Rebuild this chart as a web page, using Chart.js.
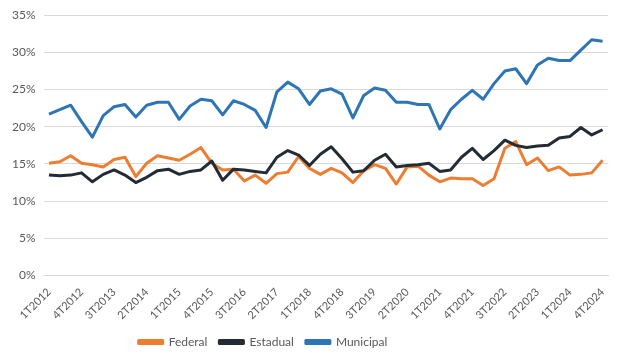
<!DOCTYPE html>
<html>
<head>
<meta charset="utf-8">
<script src="https://cdn.jsdelivr.net/npm/chart.js@4"></script>
<style>
  html, body { margin: 0; padding: 0; background: #fff; }
  #wrap { width: 631px; height: 364px; }
</style>
</head>
<body>
<div id="wrap"><canvas id="chart" width="631" height="364"></canvas></div>
<script>
// quarters 1T2012 .. 4T2024
const quarters = [];
for (let y = 2012; y <= 2024; y++) {
  for (let q = 1; q <= 4; q++) quarters.push(q + 'T' + y);
}

// values in %
const federal = [
  15.1, 15.3, 16.1, 15.1, 14.9, 14.6, 15.6, 15.9, 13.3, 15.1, 16.1, 15.8, 15.5,
  16.3, 17.2, 15.1, 14.2, 14.3, 12.7, 13.5, 12.4, 13.7, 13.9, 16.0, 14.4, 13.6,
  14.4, 13.8, 12.5, 14.1, 14.9, 14.4, 12.3, 14.6, 14.7, 13.5, 12.6, 13.1, 13.0,
  13.0, 12.1, 13.0, 17.1, 18.0, 14.9, 15.8, 14.1, 14.6, 13.5, 13.6, 13.8, 15.5
];
const estadual = [
  13.5, 13.4, 13.5, 13.8, 12.6, 13.6, 14.2, 13.5, 12.5, 13.2, 14.1, 14.3, 13.6,
  14.0, 14.2, 15.4, 12.8, 14.3, 14.2, 14.0, 13.8, 15.9, 16.8, 16.2, 14.8, 16.3,
  17.3, 15.7, 13.9, 14.1, 15.5, 16.3, 14.6, 14.8, 14.9, 15.1, 14.0, 14.2, 15.9,
  17.1, 15.6, 16.8, 18.2, 17.5, 17.2, 17.4, 17.5, 18.5, 18.7, 19.9, 18.9, 19.6
];
const municipal = [
  21.7, 22.3, 22.9, 20.7, 18.6, 21.5, 22.7, 23.0, 21.3, 22.9, 23.3, 23.3, 21.0,
  22.8, 23.7, 23.5, 21.6, 23.5, 23.0, 22.2, 19.9, 24.7, 26.0, 25.1, 23.0, 24.8,
  25.1, 24.4, 21.2, 24.2, 25.2, 24.9, 23.3, 23.3, 23.0, 23.0, 19.7, 22.3, 23.7,
  24.9, 23.7, 25.8, 27.5, 27.8, 25.8, 28.3, 29.2, 28.9, 28.9, 30.3, 31.7, 31.5
];

const seriesNames = ['Federal', 'Estadual', 'Municipal'];
const seriesColors = ['#ED7D31', '#232B35', '#2E75B6'];

function lineSet(i, data) {
  return {
    label: seriesNames[i],
    data,
    borderColor: seriesColors[i],
    backgroundColor: seriesColors[i],
    borderWidth: 3,
    pointRadius: 0,
    tension: 0,
    borderJoinStyle: 'round',
    order: 3 - i,
  };
}

const fontFamily = 'Lato, "Open Sans", sans-serif';

// legend in the reference sits a bit left of centre
const legendShift = {
  id: 'legendShift',
  afterLayout(chart) {
    const lg = chart.legend;
    if (!lg) return;
    lg.left -= 43;
    lg.right -= 43;
  },
};

new Chart(document.getElementById('chart'), {
  type: 'line',
  data: {
    labels: quarters,
    datasets: [lineSet(0, federal), lineSet(1, estadual), lineSet(2, municipal)],
  },
  plugins: [legendShift],
  options: {
    responsive: false,
    animation: false,
    layout: { padding: { left: 4, right: 23, top: 11, bottom: 6 } },
    plugins: {
      legend: {
        position: 'bottom',
        reverse: true,
        labels: {
          boxWidth: 24,
          boxHeight: 3,
          padding: 12,
          color: '#595959',
          font: { family: fontFamily, size: 12 },
        },
      },
      tooltip: { enabled: false },
    },
    scales: {
      x: {
        offset: true,
        grid: { display: false },
        border: { color: '#D9D9D9' },
        ticks: {
          autoSkip: false,
          minRotation: 45,
          maxRotation: 45,
          padding: 2,
          color: '#595959',
          font: { family: fontFamily, size: 11 },
          callback: (v, i) => (i % 3 === 0 ? quarters[i] : null),
        },
      },
      y: {
        min: 0,
        max: 35,
        grid: { color: '#D9D9D9', drawTicks: false },
        border: { display: false },
        ticks: {
          stepSize: 5,
          padding: 8,
          color: '#595959',
          font: { family: fontFamily, size: 12 },
          callback: (v) => v + '%',
        },
      },
    },
  },
});
</script>
</body>
</html>
